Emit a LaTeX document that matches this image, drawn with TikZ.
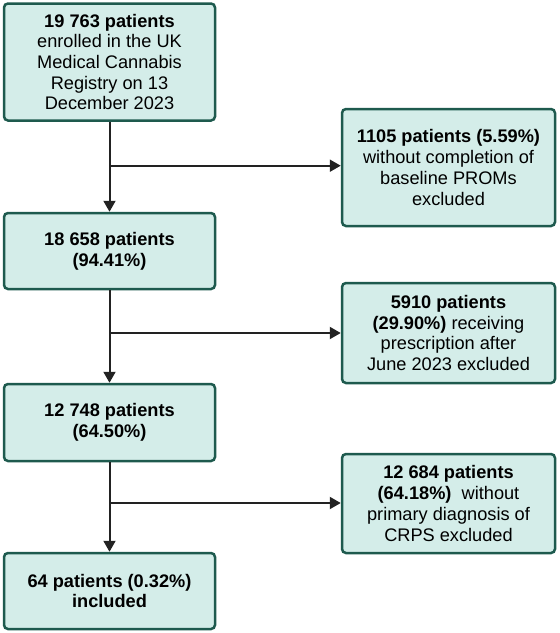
\documentclass[tikz,border=0pt]{standalone}
\usepackage{fontspec}
\setmainfont{Liberation Sans}
\usetikzlibrary{arrows.meta}
\definecolor{boxfill}{HTML}{D4EDE9}
\definecolor{boxedge}{HTML}{1E5A4E}
\definecolor{arrowcol}{HTML}{222222}
\begin{document}
\begin{tikzpicture}[x=1pt,y=-1pt,
  fbox/.style={draw=boxedge,fill=boxfill,line width=2.5pt,rounded corners=4pt,
    align=center,inner sep=2pt,font=\fontsize{18.2}{20.7}\selectfont},
  conn/.style={draw=arrowcol,line width=2pt,-{Triangle[length=11pt,width=12pt]}},
  bar/.style={draw=arrowcol,line width=2pt}]
\useasboundingbox (0,0) rectangle (560,633);
\node[fbox,minimum width=211pt,minimum height=117pt] (b1) at (109.5,62)
  {\textbf{19 763 patients}\\enrolled in the UK\\Medical Cannabis\\Registry on 13\\December 2023};
\node[fbox,minimum width=211pt,minimum height=76pt] (b2) at (109.5,251)
  {\textbf{18 658 patients}\\\textbf{(94.41\%)}};
\node[fbox,minimum width=211pt,minimum height=77pt] (b3) at (109.5,422.5)
  {\textbf{12 748 patients}\\\textbf{(64.50\%)}};
\node[fbox,minimum width=211pt,minimum height=76pt] (b4) at (109.5,591)
  {\textbf{64 patients (0.32\%)}\\\textbf{included}};
\node[fbox,minimum width=213pt,minimum height=117pt] (r1) at (448.5,167.5)
  {\textbf{1105 patients (5.59\%)}\\without completion of\\baseline PROMs\\excluded};
\node[fbox,minimum width=213pt,minimum height=100pt] (r2) at (448.5,333)
  {\textbf{5910 patients}\\\textbf{(29.90\%)} receiving\\prescription after\\June 2023 excluded};
\node[fbox,minimum width=213pt,minimum height=99pt] (r3) at (448.5,503.5)
  {\textbf{12 684 patients}\\\textbf{(64.18\%)}\ \ without\\primary diagnosis of\\CRPS excluded};
\coordinate (j1) at (109.5,165.7);
\coordinate (j2) at (109.5,333);
\coordinate (j3) at (109.5,503);
\draw[conn] (b1.south) -- (b2.north);
\draw[conn] (b2.south) -- (b3.north);
\draw[conn] (b3.south) -- (b4.north);
\draw[conn] (j1) -- (j1 -| r1.west);
\draw[conn] (j2) -- (j2 -| r2.west);
\draw[conn] (j3) -- (j3 -| r3.west);
\end{tikzpicture}
\end{document}
